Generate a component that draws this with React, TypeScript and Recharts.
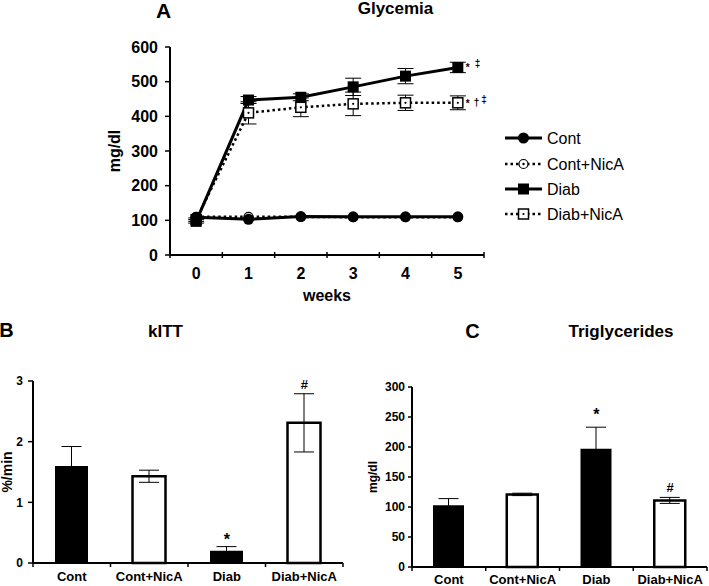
import React from 'react';
import {
  LineChart, Line, XAxis, YAxis, ErrorBar, LabelList,
  ComposedChart, Bar, Cell,
} from 'recharts';

// ---------- data ----------
const WEEKS = [0, 1, 2, 3, 4, 5];
const CONT = [109, 103, 111, 110, 110, 110];
const CONT_NICA = [110, 110, 110, 109, 109, 109];
const DIAB = [97, 447, 455, 485, 516, 541];
const DIAB_ERR = [5, 10, 10, 25, 22, 15];
const DIAB_NICA = [102, 410, 426, 436, 439, 439];
const DIAB_NICA_ERR = [5, 32, 27, 34, 22, 20];
const GLY_TICKS = [0, 100, 200, 300, 400, 500, 600];

const GROUPS = ['Cont', 'Cont+NicA', 'Diab', 'Diab+NicA'];
const KITT = [1.6, 1.43, 0.2, 2.31];
const KITT_ERR = [0.32, 0.1, 0.07, 0.48];
const KITT_SIG = ['', '', '*', '#'];
const KITT_TICKS = [0, 1, 2, 3];

const TG = [103, 121, 197, 111];
const TG_ERR = [11, 2, 36, 5];
const TG_SIG = ['', '', '*', '#'];
const TG_TICKS = [0, 50, 100, 150, 200, 250, 300];

const LEGEND = ['Cont', 'Cont+NicA', 'Diab', 'Diab+NicA'];

// ---------- tables ----------
const glyData = WEEKS.map((w, i) => ({
  week: w,
  cont: CONT[i],
  contNica: CONT_NICA[i],
  diab: DIAB[i],
  diabErr: DIAB_ERR[i],
  diabNica: DIAB_NICA[i],
  diabNicaErr: DIAB_NICA_ERR[i],
  diabNote: i === WEEKS.length - 1 ? 'd' : '',
  diabNicaNote: i === WEEKS.length - 1 ? 'dn' : '',
}));
const X_BOUNDS = [WEEKS[0] - 0.5, ...WEEKS.map((w) => w + 0.5)];

const kittData = GROUPS.map((g, i) => ({ group: g, value: KITT[i], err: KITT_ERR[i], top: KITT[i] + KITT_ERR[i], sig: KITT_SIG[i] }));
const tgData = GROUPS.map((g, i) => ({ group: g, value: TG[i], err: TG_ERR[i], top: TG[i] + TG_ERR[i], sig: TG_SIG[i] }));

// ---------- style ----------
const FONT = '"Liberation Sans", Arial, Helvetica, sans-serif';
const BLACK = '#000';
const A_PLOT_W = 314;
const DOT_DASH = '2.5 3';

const FilledCircle = (p: any) => <circle key={p.key} cx={p.cx} cy={p.cy} r={5.5} fill={BLACK} />;
const OpenCircle = (p: any) => (
  <g key={p.key}>
    <circle cx={p.cx} cy={p.cy} r={4.5} fill="#fff" stroke={BLACK} strokeWidth={1.2} />
    <circle cx={p.cx} cy={p.cy} r={1.2} fill={BLACK} />
  </g>
);
const FilledSquare = (p: any) => <rect key={p.key} x={p.cx - 5.5} y={p.cy - 5.5} width={11} height={11} fill={BLACK} />;
const OpenSquare = (p: any) => (
  <g key={p.key}>
    <rect x={p.cx - 5} y={p.cy - 5} width={10} height={10} fill="#fff" stroke={BLACK} strokeWidth={1.5} />
    <circle cx={p.cx} cy={p.cy} r={1.1} fill={BLACK} />
  </g>
);

const WeekTick = (props: any) => {
  const { x, y, payload } = props;
  const half = A_PLOT_W / (WEEKS.length * 2);
  const v = payload.value;
  const label = v + 0.5;
  return (
    <g>
      <line x1={x} x2={x} y1={y - 3} y2={y + 3} stroke={BLACK} strokeWidth={1.5} />
      {label <= WEEKS[WEEKS.length - 1] && (
        <text x={x + half} y={y + 24} textAnchor="middle" fontSize={16} fontWeight={700} fill={BLACK} fontFamily={FONT}>
          {String(label)}
        </text>
      )}
    </g>
  );
};

const NumTick = (fontSize: number) => (props: any) => {
  const { x, y, payload } = props;
  return (
    <text x={x} y={y} dy="0.36em" textAnchor="end" fontSize={fontSize} fontWeight={700} fill={BLACK} fontFamily={FONT}>
      {payload.value}
    </text>
  );
};

const makeGroupTick = (band: number, fontSize: number, dy: number) => (props: any) => {
  const { x, y, payload, index } = props;
  return (
    <g>
      <line x1={x - band / 2} x2={x - band / 2} y1={y} y2={y + 4} stroke={BLACK} strokeWidth={1.5} />
      {index === GROUPS.length - 1 && (
        <line x1={x + band / 2} x2={x + band / 2} y1={y} y2={y + 4} stroke={BLACK} strokeWidth={1.5} />
      )}
      <text x={x} y={y + dy} textAnchor="middle" fontSize={fontSize} fontWeight={700} fill={BLACK} fontFamily={FONT}>
        {payload.value}
      </text>
    </g>
  );
};

const rotLabel = (text: string, dx: number, fontSize: number) => (props: any) => {
  const vb = props.viewBox || {};
  const cx = vb.x + dx;
  const cy = vb.y + vb.height / 2;
  return (
    <text x={cx} y={cy} transform={`rotate(-90, ${cx}, ${cy})`} textAnchor="middle" fontSize={fontSize} fontWeight={700} fill={BLACK} fontFamily={FONT}>
      {text}
    </text>
  );
};

const WeeksLabel = (props: any) => {
  const vb = props.viewBox || {};
  return (
    <text x={vb.x + vb.width / 2} y={vb.y + 46} textAnchor="middle" fontSize={16} fontWeight={700} fill={BLACK} fontFamily={FONT}>
      weeks
    </text>
  );
};

const DiabNote = (props: any) => {
  const { x, y, value } = props;
  if (!value) return null;
  return (
    <text x={x + 8} y={y + 4} fontSize={10} fontWeight={700} fill={BLACK} fontFamily={FONT}>
      *<tspan dx={5} dy={-4}>‡</tspan>
    </text>
  );
};
const DiabNicaNote = (props: any) => {
  const { x, y, value } = props;
  if (!value) return null;
  return (
    <text x={x + 8} y={y + 4} fontSize={10} fontWeight={700} fill={BLACK} fontFamily={FONT}>
      *<tspan dx={4} dy={-1}>†</tspan><tspan dx={2} dy={-3}>‡</tspan>
    </text>
  );
};

const makeSig = (starOff: number, hashOff: number) => (props: any) => {
  const { x, y, value } = props;
  if (!value) return null;
  const off = value === '*' ? starOff : hashOff;
  return (
    <text x={x} y={y - off} textAnchor="middle" fontSize={value === '*' ? 16 : 13} fontWeight={700} fill={BLACK} fontFamily={FONT}>
      {value}
    </text>
  );
};

const axisLine = { stroke: BLACK, strokeWidth: 2 };
const tickLine = { stroke: BLACK, strokeWidth: 1.5 };

const LegendBox = () => {
  const rows = [
    { dash: undefined, marker: FilledCircle },
    { dash: DOT_DASH, marker: OpenCircle },
    { dash: undefined, marker: FilledSquare },
    { dash: DOT_DASH, marker: OpenSquare },
  ];
  const ys = [13, 39, 64, 89];
  return (
    <svg width={140} height={105} style={{ position: 'absolute', left: 500, top: 125 }}>
      {LEGEND.map((name, i) => {
        const r = rows[i];
        const M = r.marker;
        return (
          <g key={name}>
            <line x1={5} x2={42} y1={ys[i]} y2={ys[i]} stroke={BLACK} strokeWidth={r.dash ? 2.5 : 3} strokeDasharray={r.dash} />
            <M cx={23.5} cy={ys[i]} />
            <text x={47} y={ys[i] + 5.7} fontSize={16} fill={BLACK} fontFamily={FONT}>{name}</text>
          </g>
        );
      })}
    </svg>
  );
};

const Titles = () => (
  <svg width={709} height={586} style={{ position: 'absolute', left: 0, top: 0, pointerEvents: 'none' }}>
    <g fontFamily={FONT} fontWeight={700} fill={BLACK}>
      <text x={163.5} y={18} textAnchor="middle" fontSize={21}>A</text>
      <text x={395.5} y={14} textAnchor="middle" fontSize={17}>Glycemia</text>
      <text x={6.5} y={337} textAnchor="middle" fontSize={20}>B</text>
      <text x={165.5} y={337} textAnchor="middle" fontSize={17}>kITT</text>
      <text x={472.5} y={338} textAnchor="middle" fontSize={20}>C</text>
      <text x={621} y={337} textAnchor="middle" fontSize={17}>Triglycerides</text>
    </g>
  </svg>
);

export default function App() {
  return (
    <div style={{ position: 'absolute', left: 0, top: 0, width: 709, height: 586, background: '#fff', fontFamily: FONT, overflow: 'hidden' }}>
      <div style={{ position: 'absolute', left: 0, top: 0 }}>
        <LineChart width={709} height={310} data={glyData} margin={{ top: 47, right: 225, bottom: 0, left: 110 }}>
          <XAxis
            dataKey="week"
            type="number"
            domain={[X_BOUNDS[0], X_BOUNDS[X_BOUNDS.length - 1]]}
            ticks={X_BOUNDS}
            interval={0}
            height={55}
            tickSize={0}
            tickMargin={0}
            axisLine={axisLine}
            tickLine={false}
            tick={<WeekTick />}
            label={{ content: WeeksLabel }}
          />
          <YAxis
            domain={[0, 600]}
            ticks={GLY_TICKS}
            interval={0}
            width={60}
            tickSize={5}
            tickMargin={7}
            axisLine={axisLine}
            tickLine={tickLine}
            tick={NumTick(16)}
            label={{ content: rotLabel('mg/dl', 10, 16) }}
          />
          <Line dataKey="diabNica" stroke={BLACK} strokeWidth={2.5} strokeDasharray={DOT_DASH} dot={OpenSquare} activeDot={false} isAnimationActive={false}>
            <ErrorBar dataKey="diabNicaErr" width={8} stroke={BLACK} strokeWidth={1} direction="y" />
            <LabelList dataKey="diabNicaNote" content={DiabNicaNote} />
          </Line>
          <Line dataKey="diab" stroke={BLACK} strokeWidth={3} dot={FilledSquare} activeDot={false} isAnimationActive={false}>
            <ErrorBar dataKey="diabErr" width={8} stroke={BLACK} strokeWidth={1} direction="y" />
            <LabelList dataKey="diabNote" content={DiabNote} />
          </Line>
          <Line dataKey="contNica" stroke={BLACK} strokeWidth={2.5} strokeDasharray={DOT_DASH} dot={OpenCircle} activeDot={false} isAnimationActive={false} />
          <Line dataKey="cont" stroke={BLACK} strokeWidth={3} dot={FilledCircle} activeDot={false} isAnimationActive={false} />
        </LineChart>
      </div>
      <LegendBox />

      <div style={{ position: 'absolute', left: 0, top: 320 }}>
        <ComposedChart width={355} height={266} data={kittData} margin={{ top: 61, right: 12, bottom: 0, left: 3 }}>
          <XAxis
            dataKey="group"
            height={23}
            tickSize={0}
            tickMargin={0}
            interval={0}
            axisLine={axisLine}
            tickLine={false}
            tick={makeGroupTick(310 / GROUPS.length, 13, 18)}
          />
          <YAxis
            domain={[0, 3]}
            ticks={KITT_TICKS}
            interval={0}
            width={30}
            tickSize={5}
            tickMargin={5}
            axisLine={axisLine}
            tickLine={tickLine}
            tick={NumTick(12)}
            label={{ content: rotLabel('%/min', 9, 14) }}
          />
          <Bar dataKey="value" barSize={33} isAnimationActive={false}>
            {kittData.map((d, i) => {
              const filled = !d.group.includes('NicA');
              return <Cell key={i} fill={filled ? BLACK : '#fff'} stroke={BLACK} strokeWidth={filled ? 0 : 2.5} />;
            })}
            <ErrorBar dataKey="err" width={10} stroke={BLACK} strokeWidth={1} direction="y" />
          </Bar>
          <Line dataKey="top" stroke="none" dot={false} activeDot={false} isAnimationActive={false}>
            <LabelList dataKey="sig" content={makeSig(2, 5)} />
          </Line>
        </ComposedChart>
      </div>

      <div style={{ position: 'absolute', left: 360, top: 320 }}>
        <ComposedChart width={349} height={266} data={tgData} margin={{ top: 67, right: 2, bottom: 0, left: 12 }}>
          <XAxis
            dataKey="group"
            height={19}
            tickSize={0}
            tickMargin={0}
            interval={0}
            axisLine={axisLine}
            tickLine={false}
            tick={makeGroupTick(295 / GROUPS.length, 13, 17)}
          />
          <YAxis
            domain={[0, 300]}
            ticks={TG_TICKS}
            interval={0}
            width={40}
            tickSize={4}
            tickMargin={3}
            axisLine={axisLine}
            tickLine={tickLine}
            tick={NumTick(12)}
            label={{ content: rotLabel('mg/dl', 5, 12) }}
          />
          <Bar dataKey="value" barSize={31} isAnimationActive={false}>
            {tgData.map((d, i) => {
              const filled = !d.group.includes('NicA');
              return <Cell key={i} fill={filled ? BLACK : '#fff'} stroke={BLACK} strokeWidth={filled ? 0 : 2.5} />;
            })}
            <ErrorBar dataKey="err" width={10} stroke={BLACK} strokeWidth={1} direction="y" />
          </Bar>
          <Line dataKey="top" stroke="none" dot={false} activeDot={false} isAnimationActive={false}>
            <LabelList dataKey="sig" content={makeSig(7, 5)} />
          </Line>
        </ComposedChart>
      </div>

      <Titles />
    </div>
  );
}
